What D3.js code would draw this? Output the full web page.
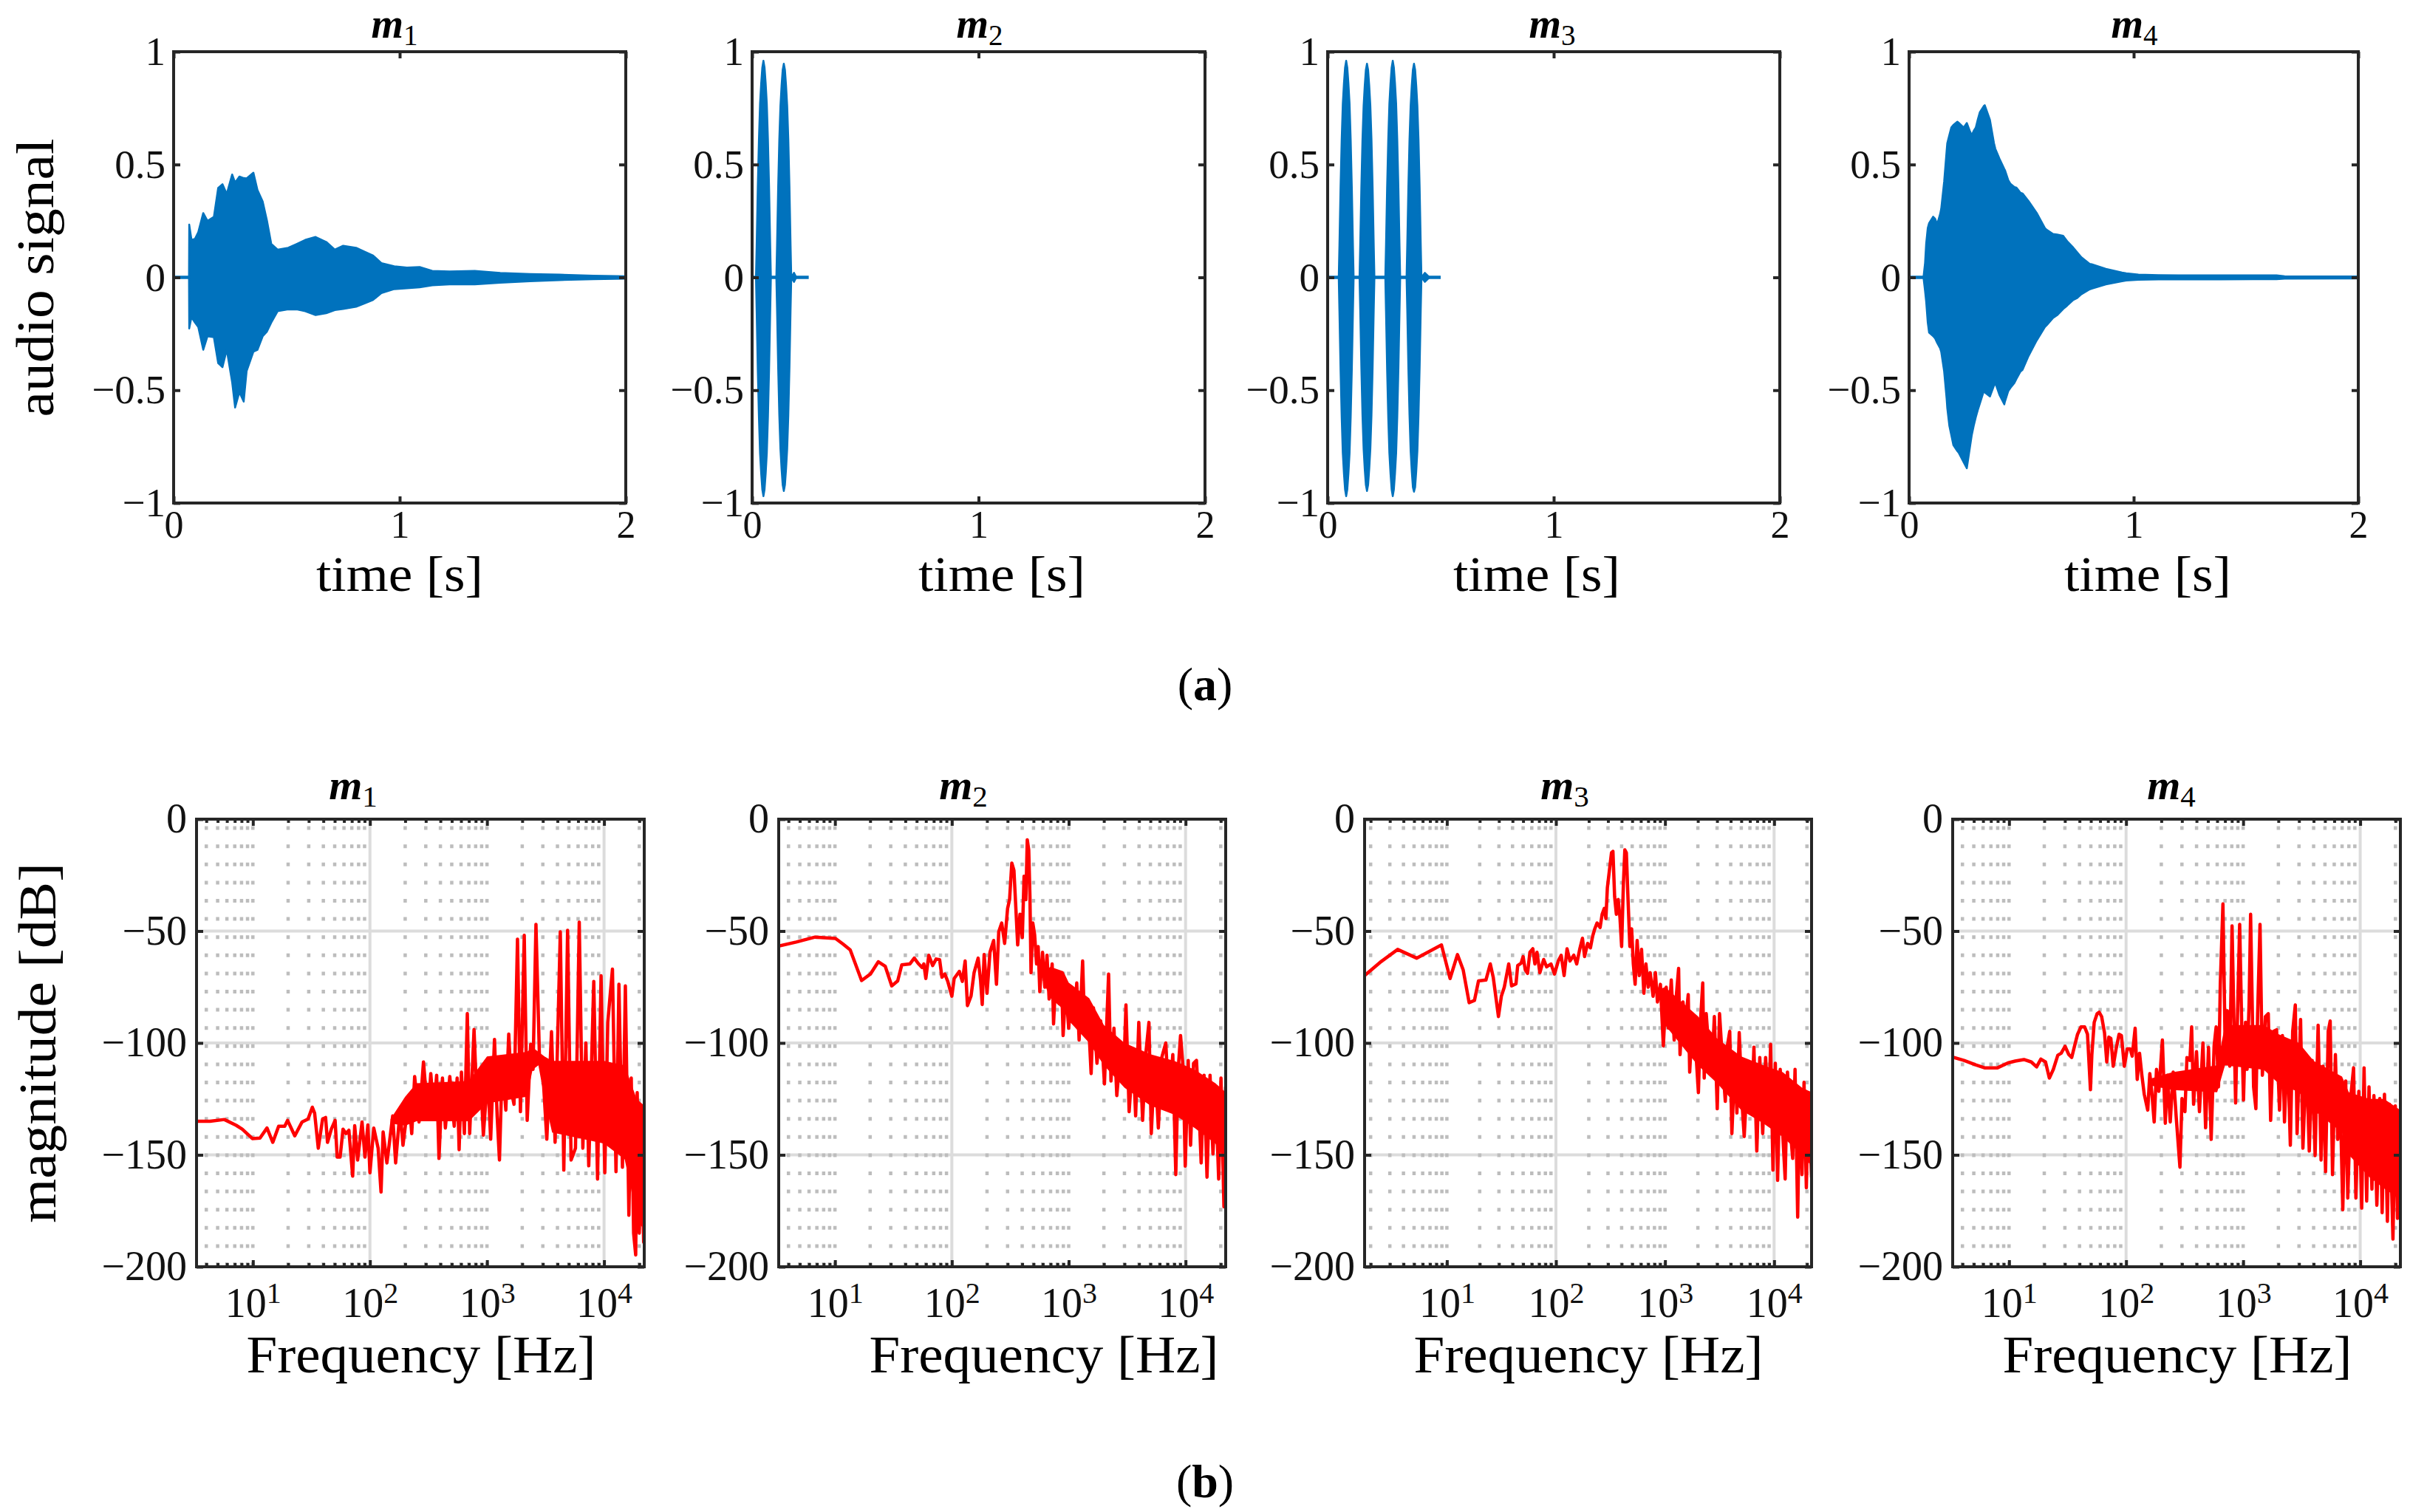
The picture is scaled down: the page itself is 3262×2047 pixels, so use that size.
<!DOCTYPE html>
<html>
<head>
<meta charset="utf-8">
<script src="https://cdn.jsdelivr.net/npm/d3@7"></script>
<style>
html,body{margin:0;padding:0;background:#fff;}
svg{display:block;}
</style>
</head>
<body>
<svg id="fig" width="3262" height="2047" xmlns="http://www.w3.org/2000/svg"></svg>
<script>
// ================= DATA =================
const panelSubscripts = ["1", "2", "3", "4"];
const timeTicks = [0, 1, 2];
const ampTicks = [-1, -0.5, 0, 0.5, 1];
const ampTickLabels = ["\u22121", "\u22120.5", "0", "0.5", "1"];
const dbTicks = [-200, -150, -100, -50, 0];
const dbTickLabels = ["\u2212200", "\u2212150", "\u2212100", "\u221250", "0"];
const dbGrid = [-150, -100, -50];
const decadeTicks = [10, 100, 1000, 10000];
const decadeExponents = ["1", "2", "3", "4"];
const solidGridDecades = [100, 10000];
const freqMin = [3.3, 3.3, 1.76, 3.3];
const freqMax = 22050;
const timeMax = 2;
const signalEnd = [2, 0.25, 0.5, 2];

// audio envelopes: [time s, upper, lower]
const m1Envelope = [
[0.068,0,0],[0.069,0.234,-0.227],[0.079,0.166,-0.176],[0.094,0.17,-0.2],[0.109,0.2,-0.22],
[0.131,0.285,-0.321],[0.15,0.25,-0.261],[0.178,0.268,-0.265],[0.197,0.396,-0.38],[0.216,0.413,-0.398],
[0.235,0.37,-0.321],[0.259,0.456,-0.466],[0.272,0.42,-0.577],[0.291,0.447,-0.509],[0.31,0.44,-0.551],
[0.323,0.439,-0.415],[0.353,0.464,-0.329],[0.371,0.387,-0.321],[0.394,0.336,-0.261],[0.413,0.251,-0.24],
[0.432,0.148,-0.2],[0.46,0.123,-0.15],[0.507,0.131,-0.142],[0.544,0.148,-0.142],[0.582,0.166,-0.15],
[0.628,0.179,-0.167],[0.675,0.157,-0.159],[0.713,0.123,-0.145],[0.75,0.14,-0.14],[0.807,0.131,-0.13],
[0.844,0.114,-0.116],[0.882,0.097,-0.1],[0.919,0.063,-0.07],[0.976,0.049,-0.052],[1.032,0.043,-0.048],
[1.088,0.046,-0.044],[1.144,0.029,-0.035],[1.22,0.026,-0.031],[1.332,0.029,-0.031],[1.445,0.02,-0.024],
[1.576,0.015,-0.017],[1.707,0.012,-0.012],[1.857,0.007,-0.008],[2.0,0.005,-0.006]
];
const m2Envelope = [
[0.017,0,0],[0.02,0.14,-0.15],[0.025,0.40,-0.41],[0.03,0.61,-0.62],[0.035,0.77,-0.78],[0.04,0.86,-0.87],
[0.045,0.93,-0.94],[0.05,0.96,-0.97],[0.055,0.93,-0.94],[0.06,0.86,-0.87],[0.065,0.77,-0.78],[0.07,0.61,-0.62],
[0.075,0.40,-0.41],[0.08,0.14,-0.15],[0.083,0,0],
[0.107,0,0],[0.11,0.14,-0.14],[0.115,0.40,-0.40],[0.12,0.61,-0.61],[0.125,0.76,-0.76],[0.13,0.85,-0.85],
[0.135,0.92,-0.92],[0.14,0.947,-0.947],[0.145,0.92,-0.92],[0.15,0.85,-0.85],[0.155,0.76,-0.76],[0.16,0.61,-0.61],
[0.165,0.40,-0.40],[0.17,0.14,-0.14],[0.173,0,0],[0.185,0.02,-0.02],[0.195,0,0]
];
const m3Envelope = [
[0.049,0,0],[0.052,0.14,-0.15],[0.057,0.40,-0.41],[0.062,0.61,-0.62],[0.067,0.77,-0.78],[0.072,0.86,-0.87],
[0.077,0.93,-0.94],[0.082,0.96,-0.97],[0.087,0.93,-0.94],[0.092,0.86,-0.87],[0.097,0.77,-0.78],[0.102,0.61,-0.62],
[0.107,0.40,-0.41],[0.112,0.14,-0.15],[0.115,0,0],
[0.141,0,0],[0.144,0.14,-0.14],[0.149,0.40,-0.40],[0.154,0.61,-0.61],[0.159,0.76,-0.76],[0.164,0.85,-0.85],
[0.169,0.92,-0.92],[0.174,0.947,-0.947],[0.179,0.92,-0.92],[0.184,0.85,-0.85],[0.189,0.76,-0.76],[0.194,0.61,-0.61],
[0.199,0.40,-0.40],[0.204,0.14,-0.14],[0.207,0,0],
[0.255,0,0],[0.258,0.14,-0.15],[0.263,0.40,-0.41],[0.268,0.61,-0.62],[0.273,0.77,-0.78],[0.278,0.86,-0.87],
[0.283,0.93,-0.94],[0.288,0.96,-0.97],[0.293,0.93,-0.94],[0.298,0.86,-0.87],[0.303,0.77,-0.78],[0.308,0.61,-0.62],
[0.313,0.40,-0.41],[0.318,0.14,-0.15],[0.321,0,0],
[0.349,0,0],[0.352,0.14,-0.14],[0.357,0.40,-0.40],[0.362,0.61,-0.61],[0.367,0.76,-0.77],[0.372,0.85,-0.86],
[0.377,0.92,-0.93],[0.382,0.947,-0.95],[0.387,0.92,-0.93],[0.392,0.85,-0.86],[0.397,0.76,-0.77],[0.402,0.61,-0.61],
[0.407,0.40,-0.40],[0.412,0.14,-0.14],[0.415,0,0],[0.43,0.02,-0.02],[0.45,0,0]
];
const m4Envelope = [
[0.064,0,0],[0.071,0.063,-0.06],[0.076,0.15,-0.108],[0.083,0.218,-0.2],[0.089,0.24,-0.245],[0.107,0.269,-0.26],
[0.116,0.26,-0.271],[0.125,0.235,-0.29],[0.138,0.28,-0.314],[0.143,0.304,-0.33],[0.156,0.424,-0.417],[0.167,0.56,-0.537],
[0.17,0.595,-0.58],[0.179,0.63,-0.657],[0.188,0.664,-0.7],[0.197,0.675,-0.743],[0.215,0.69,-0.77],[0.221,0.685,-0.777],
[0.243,0.664,-0.82],[0.257,0.684,-0.846],[0.27,0.65,-0.76],[0.279,0.63,-0.7],[0.288,0.65,-0.657],[0.297,0.664,-0.62],
[0.306,0.7,-0.588],[0.315,0.732,-0.56],[0.333,0.76,-0.503],[0.337,0.763,-0.51],[0.36,0.698,-0.528],[0.378,0.595,-0.48],
[0.384,0.57,-0.468],[0.402,0.527,-0.52],[0.424,0.48,-0.563],[0.427,0.475,-0.55],[0.442,0.43,-0.503],[0.451,0.415,-0.49],
[0.469,0.4,-0.468],[0.478,0.398,-0.45],[0.496,0.375,-0.417],[0.505,0.372,-0.41],[0.532,0.338,-0.348],[0.568,0.286,-0.28],
[0.605,0.218,-0.22],[0.614,0.21,-0.211],[0.641,0.192,-0.18],[0.659,0.19,-0.168],[0.686,0.184,-0.14],[0.704,0.16,-0.125],
[0.731,0.132,-0.1],[0.749,0.11,-0.091],[0.767,0.089,-0.075],[0.804,0.06,-0.053],[0.813,0.058,-0.05],[0.876,0.038,-0.031],
[0.948,0.021,-0.017],[0.967,0.018,-0.014],[1.021,0.012,-0.011],[1.111,0.01,-0.009],[1.2,0.009,-0.009],[1.383,0.009,-0.009],
[1.636,0.009,-0.008],[1.672,0.005,-0.006],[2.0,0.004,-0.005]
];

// magnitude spectra: [frequency Hz, dB]
const m1Spectrum = [
[3.3,-135],[4.3,-135],[5.7,-134.2],[7.2,-136.8],[8.1,-138.5],[9.9,-142.7],[11.5,-142.5],[13.2,-138],[14.8,-144.4],
[16.6,-137.2],[18.7,-137.2],[19.8,-134.6],[22.8,-141.5],[26.3,-135.3],[29.6,-134],[32.2,-128.7],[33.7,-131.4],
[36.2,-147],[39.4,-134],[41.8,-133.3],[43.4,-144.4],[46.8,-138.5],[50.4,-134.6],[52.5,-151],[55.6,-151],[58.9,-138.5],
[62.4,-140.5],[66.1,-139],[71.2,-159.5],[74.1,-137],[78.5,-152.3],[85.6,-135.3],[90.7,-151],[96,-136.6],[100,-158],
[107.8,-138],[117.5,-147],[124.4,-166.6],[129.6,-139.8],[139.6,-153.6],[156.5,-132.6],[165.8,-153.6],[180.9,-130],
[191.6,-145.7],[214.9,-124.2],[227.6,-140.5],[241,-115],[262.8,-135.3],[286.7,-108.5],[312.7,-132.6],[331,-113.7],
[350.7,-130],[371.5,-114.4],[388.9,-151.6],[416.5,-115.7],[441,-138],[481,-115],[525,-137.2],[556,-115.7],[578,-147.7],
[605,-113],[641,-140.5],[679,-86.9],[711,-140.5],[775,-94],[816,-123.5],[879,-113],[931,-141.2],[1014,-114.4],
[1075,-143],[1159,-98.4],[1221,-132.6],[1278,-152.3],[1353,-107.8],[1448,-130],[1534,-96],[1624,-122.2],[1701,-127.4],
[1822,-53.6],[1931,-130.7],[2081,-51.9],[2205,-134.6],[2362,-100.6],[2474,-111.8],[2620,-47],[2807,-106.5],[3026,-116.3],
[3244,-143],[3557,-95],[3818,-144.4],[4230,-50.3],[4531,-156.8],[4882,-49.7],[5230,-152.3],[5700,-147],[6140,-46],
[6590,-147],[6990,-100],[7400,-154.9],[8170,-72.5],[8800,-160.8],[9430,-70],[10150,-158],[10760,-90.8],[11800,-67],
[12650,-157.5],[13400,-73.8],[14360,-155.5],[15210,-74.5],[16300,-177],[17080,-115.7],[17890,-185],[18640,-194.7],
[19200,-122.2],[20000,-185],[20940,-140.5],[21800,-189],[22050,-134]
];
const m2Spectrum = [
[3.3,-56.7],[4.66,-54.9],[6.76,-52.7],[10.1,-53.3],[11.7,-55.8],[13.5,-58.4],[16.9,-72.1],[20.1,-69.2],[23.5,-63.7],
[26.9,-65.7],[30.6,-74.5],[34.4,-72.3],[37.3,-65.1],[43.7,-64.7],[47.7,-62.1],[52,-64.7],[55.7,-66.3],[57.6,-64.7],
[59.9,-71.2],[63.5,-60.8],[68.5,-65.4],[73.4,-62.5],[78.6,-62.8],[82.3,-70.6],[87.1,-69.2],[92.3,-72.5],[100,-79.1],
[104.7,-71.2],[116,-68],[123,-72.5],[130,-63.4],[136,-83.3],[146,-79],[155,-68.6],[168,-62.1],[176,-71.9],[182,-82.8],
[189,-60.5],[200,-77.8],[212,-59.5],[228,-54.2],[241,-73.8],[252,-50.3],[267,-46.4],[283,-55.5],[300,-39.9],[312,-35.9],
[326,-19.6],[340,-22.9],[351,-37.2],[366,-56.2],[383,-42.5],[401,-52.9],[415,-25.5],[430,-36],[442,-9.2],[455,-13.7],
[466,-34.6],[476,-68.6],[493,-46.4],[511,-51.6],[531,-64.7],[548,-56.9],[566,-77.1],[597,-59.5],[625,-75.1],[652,-60.8],
[680,-80.4],[722,-64.7],[742,-91.5],[781,-68],[826,-82.3],[868,-71.2],[896,-96.7],[944,-75.1],[1000,-93.4],[1060,-75.1],
[1124,-88.2],[1172,-73.2],[1228,-98.7],[1316,-63.4],[1360,-88],[1450,-81.7],[1556,-113.7],[1629,-84.3],[1746,-109.1],
[1880,-90.2],[2023,-118.3],[2195,-69.2],[2300,-117],[2440,-93.4],[2580,-123.5],[2820,-100],[2970,-110.4],[3090,-83],
[3290,-130.7],[3550,-105.2],[3740,-132.6],[3980,-90.8],[4290,-134.6],[4560,-105.2],[4860,-90.8],[5090,-140.5],
[5450,-107.8],[5850,-138],[6260,-106.5],[6770,-100],[7230,-127.4],[7780,-105.2],[8250,-158.8],[8650,-111.8],[9060,-96.7],
[9550,-111.8],[9940,-155],[10540,-107.8],[11040,-145.7],[11700,-109.1],[12400,-107.8],[12980,-127.4],[13600,-153.6],
[14400,-114.4],[15260,-160],[16200,-114.4],[17160,-149.6],[18100,-122.2],[19200,-160.8],[20100,-115.7],[21300,-173.2],
[22050,-119.6]
];
const m3Spectrum = [
[1.76,-69.9],[2.44,-64],[3.54,-58.2],[5.28,-62.1],[8.92,-56.2],[10.7,-71.2],[12.5,-60.5],[14.1,-67.3],[16,-82],[17.9,-81],
[19.5,-72.3],[22.8,-71.9],[25,-64.7],[26.6,-70.6],[29.7,-88.2],[31.6,-79.1],[33.6,-75.1],[36.9,-64.7],[39.2,-74.5],
[43,-73.6],[44.6,-65.4],[47.9,-64.4],[50,-61.4],[52.3,-67.3],[54.9,-68.9],[57.7,-59.5],[61.4,-57.9],[64.1,-64.7],
[67,-59.5],[71.2,-68.6],[77.2,-62.7],[82.1,-66],[90,-64.7],[97,-69.2],[105,-63.4],[111.7,-60.8],[118.8,-69.9],
[126.4,-57.9],[134.4,-63.4],[145.7,-60.8],[155,-64.7],[165,-58.2],[175,-53.2],[183,-61.4],[195,-55.5],[207,-57.5],
[217,-52.3],[227,-49],[238,-46.4],[254,-48.4],[265,-42.5],[277,-39.9],[287,-44.4],[296,-30.7],[309,-22.9],[323,-15],
[333,-14.4],[345,-34.6],[358,-42.5],[372,-35.9],[386,-43.8],[400,-56.9],[415,-29.4],[428,-13.7],[442,-15],[458,-35.9],
[476,-56.9],[494,-49],[512,-64.7],[532,-73.8],[555,-54.2],[580,-69.9],[609,-58.2],[640,-77.8],[668,-64.7],[701,-75.1],
[731,-68.6],[777,-79.1],[816,-68.6],[852,-81.7],[907,-73.8],[965,-101.3],[1026,-75.1],[1072,-93.4],[1141,-71.9],
[1213,-98.7],[1275,-77.8],[1332,-66.7],[1373,-105.2],[1460,-81.7],[1534,-92.1],[1632,-78.4],[1683,-113],[1790,-88.2],
[1903,-101.3],[2023,-122.2],[2111,-90.8],[2217,-73.2],[2287,-115.7],[2386,-86.9],[2506,-101.3],[2698,-110.4],
[2832,-88.2],[3011,-129.4],[3160,-86.9],[3360,-107.8],[3570,-126.1],[3730,-101.3],[3920,-94.8],[4100,-140.5],
[4370,-107.8],[4560,-131.3],[4790,-95.4],[5090,-127.4],[5320,-141.8],[5770,-109.1],[6250,-127.4],[6530,-101.9],
[6940,-148.3],[7390,-106.5],[7860,-140.5],[8360,-106.5],[8890,-135.3],[9290,-100.6],[9760,-156.8],[10260,-109.1],
[10770,-161.4],[11380,-111.8],[11880,-136.6],[12630,-160.8],[13260,-113],[14100,-139.2],[14810,-151.6],[15560,-111.8],
[16450,-177.8],[17160,-122.2],[18020,-158.8],[18810,-117.6],[19750,-164.7],[20630,-122.2],[22050,-160.1]
];
const m4Spectrum = [
[3.3,-106.3],[4.12,-107.8],[5.19,-109.8],[6.17,-111.1],[7.97,-111.1],[9.8,-108.9],[11.3,-108.1],[13.4,-107.4],
[15.5,-108.5],[17.2,-110.7],[18.7,-107.2],[20.5,-108.5],[22.1,-115.7],[23.9,-111.8],[26.1,-105.5],[27.9,-104.6],
[30.1,-101.5],[32.4,-105.2],[34.3,-106.5],[36.3,-101.3],[38.5,-96.1],[41.2,-92.8],[44.2,-92.8],[46.8,-96.1],
[49.6,-120.9],[51,-105.2],[53.4,-90.8],[56.6,-86.9],[58.9,-86.3],[61.8,-88.2],[65.4,-95.4],[68.4,-108.5],[71.2,-97.4],
[74.1,-98],[77.6,-110.4],[82.2,-102.6],[87.1,-96.1],[91.2,-96.7],[96.6,-110.4],[102.3,-102.6],[108.4,-102.6],
[112.8,-105.9],[119.5,-93.4],[124.5,-116.3],[130.3,-104.6],[136.4,-114.4],[142.9,-122.9],[153.1,-130],[159.4,-113.7],
[165.9,-122.2],[173.8,-135.3],[181.9,-111.8],[190.5,-121.6],[204.2,-98.7],[216.3,-135.9],[225,-114.4],[238.4,-135.3],
[252.6,-113],[267.6,-132.6],[288.4,-155.5],[300.4,-124.8],[318.2,-130.7],[331.1,-106.5],[350.8,-107.8],[363.1,-92.8],
[377.3,-127.4],[399.7,-103.9],[423.4,-130.7],[453.6,-100],[477.7,-137.9],[506,-102],[533,-143.1],[565,-101.3],
[588,-92.8],[616,-119.6],[638,-73.8],[672,-37.9],[700,-97.4],[733,-85.6],[768,-110.4],[804,-47.7],[833,-88.2],
[862,-126.8],[897,-85.6],[934,-47],[978,-98.7],[1007,-125.5],[1048,-90.8],[1081,-111.8],[1125,-81.7],[1158,-42.5],
[1200,-88.2],[1228,-119.6],[1285,-129.4],[1330,-86.9],[1394,-47],[1460,-114.4],[1549,-88.2],[1640,-86.9],[1718,-134.6],
[1820,-94.8],[1930,-94.1],[2045,-130],[2166,-96.7],[2255,-135.3],[2390,-100],[2530,-145.7],[2650,-94.8],[2790,-83],
[2890,-140.5],[3095,-89.5],[3240,-147],[3470,-106.5],[3670,-148.3],[3890,-107.8],[4120,-150.3],[4370,-92.1],
[4630,-152.3],[4810,-110.4],[5060,-157.5],[5330,-94.8],[5540,-90.2],[5800,-158.8],[6140,-105.2],[6430,-143.1],
[6700,-117],[7100,-174.5],[7520,-117],[7830,-169.3],[8300,-124.2],[8780,-111.1],[9190,-169.3],[9730,-121.6],
[10300,-173.8],[10790,-111.1],[11360,-170.6],[11890,-119.6],[12600,-165.3],[13100,-123.5],[13880,-172.5],[14700,-124.8],
[15400,-175.8],[16120,-122.9],[17080,-179.7],[17780,-127.4],[19050,-187.6],[19950,-128.1],[20830,-178.4],[22050,-134]
];

// dense cores of the spectra: [frequency Hz, lower dB, upper dB]
const m1Core = [[150,-136,-134],[200,-137,-124],[250,-135,-118],[700,-135,-117],[1000,-127,-106],[2200,-124,-104],[2450,-112,-102],
[2750,-110,-104],[3100,-125,-106],[3600,-140,-108],[10000,-145,-108],[15000,-152,-110],[17000,-165,-118],[19000,-180,-125],[22050,-183,-128]];
const m2Core = [[600,-72,-68],[700,-80,-66],[900,-85,-68],[1000,-90,-73],[1500,-100,-80],[2000,-110,-92],[3000,-120,-100],[5000,-128,-105],
[8000,-132,-108],[12000,-138,-112],[18000,-145,-118],[22050,-152,-122]];
const m3Core = [[900,-80,-76],[1000,-92,-75],[2000,-110,-88],[3000,-118,-98],[5000,-130,-106],[8000,-136,-110],[12000,-142,-113],
[18000,-150,-120],[22050,-155,-122]];
const m4Core = [[160,-119,-116],[250,-121,-113],[600,-122,-110],[700,-110,-92],[1500,-112,-92],[2000,-118,-96],[3000,-122,-100],[4000,-130,-108],
[7000,-140,-115],[8000,-150,-122],[12000,-160,-125],[16000,-165,-125],[22050,-170,-130]];

const envelopes = [m1Envelope, m2Envelope, m3Envelope, m4Envelope];
const spectra = [m1Spectrum, m2Spectrum, m3Spectrum, m4Spectrum];
const cores = [m1Core, m2Core, m3Core, m4Core];

// ================= LAYOUT / STYLE =================
const FONT = "'Liberation Serif','Times New Roman',serif";
const AX = "#262626";
const BLUE = "#0072BD";
const RED = "#FF0000";
const topPanels = [{l:235,r:847},{l:1018,r:1631},{l:1797,r:2409},{l:2584,r:3192}];
const TOP_T = 70, TOP_B = 681;
const botPanels = [{l:266,r:872},{l:1054,r:1659},{l:1847,r:2452},{l:2643,r:3249}];
const BOT_T = 1109, BOT_B = 1715;
const topTitleX = [534, 1326, 2101, 2889];
const topXLabelX = [541, 1356, 2080, 2907];
const botTitleX = [478, 1304, 2118, 2939];
const botXLabelX = [570, 1413, 2150, 2947];

const svg = d3.select("#fig");
const defs = svg.append("defs");

function styleAxis(g, fs) {
  g.select(".domain").remove();
  g.attr("font-family", FONT).attr("font-size", fs);
  g.selectAll(".tick line").attr("stroke", AX).attr("stroke-width", 4);
  g.selectAll(".tick text").attr("fill", "#111");
}

function title(xc, yb, sub, fs) {
  const t = svg.append("text").attr("x", xc).attr("y", yb).attr("text-anchor", "middle")
    .attr("font-family", FONT).attr("font-size", fs).attr("fill", "#000");
  t.append("tspan").attr("font-style", "italic").attr("font-weight", "bold").text("m");
  t.append("tspan").attr("font-size", Math.round(fs * 0.7)).attr("dy", 10).text(sub);
}

function label(x, y, txt, len, fs, rotate) {
  const t = svg.append("text").attr("x", x).attr("y", y).attr("text-anchor", "middle")
    .attr("font-family", FONT).attr("font-size", fs).attr("fill", "#000")
    .attr("textLength", len).attr("lengthAdjust", "spacingAndGlyphs").text(txt);
  if (rotate) t.attr("transform", `rotate(-90,${x},${y})`);
}

// ================= TOP ROW: audio signals =================
topPanels.forEach((p, i) => {
  const x = d3.scaleLinear().domain([0, timeMax]).range([p.l, p.r]);
  const y = d3.scaleLinear().domain([-1, 1]).range([TOP_B, TOP_T]);
  const cid = "clipTop" + i;
  defs.append("clipPath").attr("id", cid).append("rect")
    .attr("x", p.l).attr("y", TOP_T).attr("width", p.r - p.l).attr("height", TOP_B - TOP_T);
  const g = svg.append("g");
  const dg = g.append("g").attr("clip-path", `url(#${cid})`);
  dg.append("path").datum([[0, 0], [signalEnd[i], 0]])
    .attr("d", d3.line().x(d => x(d[0])).y(d => y(d[1])))
    .attr("fill", "none").attr("stroke", BLUE).attr("stroke-width", 4.5);
  dg.append("path").datum(envelopes[i])
    .attr("d", d3.area().x(d => x(d[0])).y0(d => y(d[2])).y1(d => y(d[1])))
    .attr("fill", BLUE).attr("stroke", BLUE).attr("stroke-width", 2.5).attr("stroke-linejoin", "round");

  const fmtAmp = d => ampTickLabels[ampTicks.indexOf(d)];
  styleAxis(g.append("g").attr("transform", `translate(0,${TOP_B})`)
    .call(d3.axisBottom(x).tickValues(timeTicks).tickSize(-9).tickPadding(10).tickFormat(d3.format("d"))), 52);
  styleAxis(g.append("g").attr("transform", `translate(0,${TOP_T})`)
    .call(d3.axisTop(x).tickValues(timeTicks).tickSize(-9).tickFormat("")), 52);
  styleAxis(g.append("g").attr("transform", `translate(${p.l},0)`)
    .call(d3.axisLeft(y).tickValues(ampTicks).tickSize(-9).tickPadding(11).tickFormat(fmtAmp)), 55);
  styleAxis(g.append("g").attr("transform", `translate(${p.r},0)`)
    .call(d3.axisRight(y).tickValues(ampTicks).tickSize(-9).tickFormat("")), 52);
  g.append("rect").attr("x", p.l).attr("y", TOP_T).attr("width", p.r - p.l).attr("height", TOP_B - TOP_T)
    .attr("fill", "none").attr("stroke", AX).attr("stroke-width", 4);

  title(topTitleX[i], 51, panelSubscripts[i], 56);
  label(topXLabelX[i], 800, "time [s]", 226, 68, false);
});
label(72, 376, "audio signal", 377, 72, true);

// ================= BOTTOM ROW: spectra =================
botPanels.forEach((p, i) => {
  const x = d3.scaleLog().domain([freqMin[i], freqMax]).range([p.l, p.r]);
  const y = d3.scaleLinear().domain([-200, 0]).range([BOT_B, BOT_T]);
  const cid = "clipBot" + i;
  defs.append("clipPath").attr("id", cid).append("rect")
    .attr("x", p.l).attr("y", BOT_T).attr("width", p.r - p.l).attr("height", BOT_B - BOT_T);
  const g = svg.append("g");
  const allTicks = x.ticks();
  const minorTicks = allTicks.filter(v => decadeTicks.indexOf(v) < 0);
  const dottedGrid = allTicks.filter(v => solidGridDecades.indexOf(v) < 0);

  const gg = g.append("g").attr("clip-path", `url(#${cid})`);
  gg.selectAll("line.hg").data(dbGrid).join("line")
    .attr("x1", p.l).attr("x2", p.r).attr("y1", d => y(d)).attr("y2", d => y(d))
    .attr("stroke", "#dcdcdc").attr("stroke-width", 4);
  gg.selectAll("line.vs").data(solidGridDecades).join("line")
    .attr("x1", d => x(d)).attr("x2", d => x(d)).attr("y1", BOT_T).attr("y2", BOT_B)
    .attr("stroke", "#dcdcdc").attr("stroke-width", 4);
  gg.selectAll("line.vd").data(dottedGrid).join("line")
    .attr("x1", d => x(d)).attr("x2", d => x(d)).attr("y1", BOT_B - 1).attr("y2", BOT_T)
    .attr("stroke", "#bdbdbd").attr("stroke-width", 4.5).attr("stroke-dasharray", "5 19.6");

  const dg = g.append("g").attr("clip-path", `url(#${cid})`);
  dg.append("path").datum(cores[i])
    .attr("d", d3.area().x(d => x(d[0])).y0(d => y(d[1])).y1(d => y(d[2])))
    .attr("fill", RED);
  dg.append("path").datum(spectra[i])
    .attr("d", d3.line().x(d => x(d[0])).y(d => y(d[1])))
    .attr("fill", "none").attr("stroke", RED).attr("stroke-width", 4.5).attr("stroke-linejoin", "round");

  const fmtDb = d => dbTickLabels[dbTicks.indexOf(d)];
  const xb = g.append("g").attr("transform", `translate(0,${BOT_B})`)
    .call(d3.axisBottom(x).tickValues(decadeTicks).tickSize(-9).tickPadding(28).tickFormat(() => ""));
  styleAxis(xb, 56);
  xb.selectAll(".tick text").each(function(d) {
    const t = d3.select(this);
    t.append("tspan").text("10");
    t.append("tspan").attr("font-size", 40).attr("dy", -19).text(decadeExponents[decadeTicks.indexOf(d)]);
  });
  styleAxis(g.append("g").attr("transform", `translate(0,${BOT_B})`)
    .call(d3.axisBottom(x).tickValues(minorTicks).tickSize(-5).tickFormat("")), 52);
  styleAxis(g.append("g").attr("transform", `translate(0,${BOT_T})`)
    .call(d3.axisTop(x).tickValues(decadeTicks).tickSize(-9).tickFormat("")), 52);
  styleAxis(g.append("g").attr("transform", `translate(0,${BOT_T})`)
    .call(d3.axisTop(x).tickValues(minorTicks).tickSize(-5).tickFormat("")), 52);
  styleAxis(g.append("g").attr("transform", `translate(${p.l},0)`)
    .call(d3.axisLeft(y).tickValues(dbTicks).tickSize(-9).tickPadding(13).tickFormat(fmtDb)), 56);
  styleAxis(g.append("g").attr("transform", `translate(${p.r},0)`)
    .call(d3.axisRight(y).tickValues(dbTicks).tickSize(-9).tickFormat("")), 52);
  g.append("rect").attr("x", p.l).attr("y", BOT_T).attr("width", p.r - p.l).attr("height", BOT_B - BOT_T)
    .attr("fill", "none").attr("stroke", AX).attr("stroke-width", 4);

  title(botTitleX[i], 1082, panelSubscripts[i], 58);
  label(botXLabelX[i], 1858, "Frequency [Hz]", 473, 72, false);
});
label(75, 1412, "magnitude [dB]", 488, 72, true);

// ================= sub-figure captions =================
[["a", 948], ["b", 2027]].forEach(([c, yb]) => {
  const t = svg.append("text").attr("x", 1631).attr("y", yb).attr("text-anchor", "middle")
    .attr("font-family", FONT).attr("font-size", 64).attr("fill", "#000");
  t.append("tspan").text("(");
  t.append("tspan").attr("font-weight", "bold").text(c);
  t.append("tspan").text(")");
});
</script>
</body>
</html>
